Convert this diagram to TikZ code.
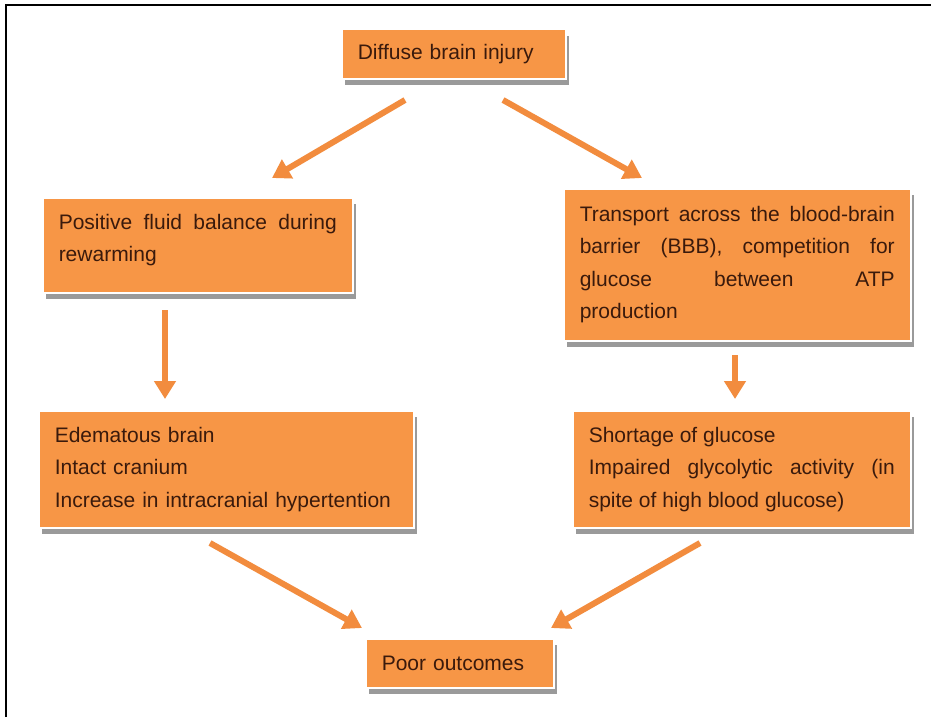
\documentclass[tikz,border=0pt]{standalone}
\usepackage{fontspec}
\setmainfont{Liberation Sans}
\usetikzlibrary{arrows.meta,shadows}
\definecolor{boxorange}{HTML}{F79646}
\definecolor{arroworange}{HTML}{F28C3E}
\definecolor{txtbrown}{HTML}{3A1A0C}
\definecolor{shadowgray}{HTML}{9A9A9A}
\tikzset{
  fbox/.style={rectangle, anchor=north west, fill=boxorange, draw=white, line width=1.5pt,
    inner xsep=16pt, inner ysep=0pt, text=txtbrown,
    font=\fontsize{21}{32.5}\selectfont,
    drop shadow={shadow xshift=3pt, shadow yshift=-6pt, fill=shadowgray, opacity=1}},
  farrow/.style={draw=arroworange, line width=6pt, -{Triangle[length=18pt,width=21pt]}},
  frameline/.style={draw=black, line width=1.6pt}
}
\begin{document}
\begin{tikzpicture}[x=1pt,y=-1pt]
\useasboundingbox (0,0) rectangle (931,717);
\fill[white] (0,0) rectangle (931,717);
\coordinate (fa) at (6,717);
\coordinate (fb) at (6,5);
\coordinate (fc) at (931,5);
\draw[frameline] (fa) -- (fb) -- (fc);

\node[fbox, minimum width=224pt, minimum height=49pt, text width=192pt, align=left] (top) at (341,29) {Diffuse brain injury};
\node[fbox, minimum width=310pt, minimum height=95pt, text width=278pt, align=justify, text depth=47.5pt] (fluid) at (42,197) {Positive fluid balance during\linebreak rewarming};
\node[fbox, minimum width=347pt, minimum height=152pt, text width=315pt, align=justify] (bbb) at (563,188) {Transport across the blood-brain\linebreak barrier (BBB), competition for\linebreak glucose between ATP\linebreak production};
\node[fbox, minimum width=375pt, minimum height=117pt, text width=343pt, align=left] (edema) at (38,410) {Edematous brain\\Intact cranium\\Increase in intracranial hypertention};
\node[fbox, minimum width=338pt, minimum height=117pt, text width=306pt, align=justify] (short) at (572,410) {Shortage of glucose\\Impaired glycolytic activity (in\linebreak spite of high blood glucose)};
\node[fbox, minimum width=188pt, minimum height=49pt, text width=156pt, align=left] (poor) at (365,638) {Poor outcomes};

\coordinate (a1s) at (405,100);
\coordinate (a1e) at (272,178);
\coordinate (a2s) at (503,100);
\coordinate (a2e) at (642,178);
\coordinate (a3s) at (165,310);
\coordinate (a3e) at (165,399);
\coordinate (a4s) at (735,355);
\coordinate (a4e) at (735,399);
\coordinate (a5s) at (210,543);
\coordinate (a5e) at (362,628);
\coordinate (a6s) at (700,543);
\coordinate (a6e) at (551,628);
\draw[farrow] (a1s) -- (a1e);
\draw[farrow] (a2s) -- (a2e);
\draw[farrow] (a3s) -- (a3e);
\draw[farrow] (a4s) -- (a4e);
\draw[farrow] (a5s) -- (a5e);
\draw[farrow] (a6s) -- (a6e);
\end{tikzpicture}
\end{document}
